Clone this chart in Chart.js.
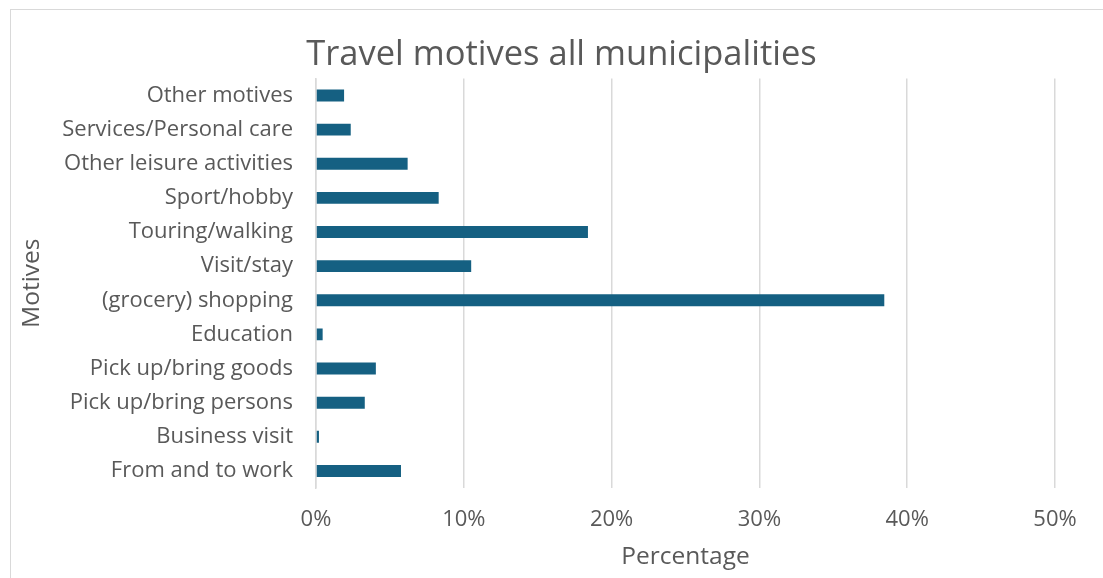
<!DOCTYPE html>
<html>
<head>
<meta charset="utf-8">
<script src="https://cdn.jsdelivr.net/npm/chart.js"></script>
<style>
  html, body { margin: 0; padding: 0; background: #fff; overflow: hidden; }
  #wrap { position: absolute; left: 0; top: 0; width: 1103px; height: 578px; }
  #frame { position: absolute; left: 10px; top: 9px; width: 1100px; height: 580px; border: 1px solid #d9d9d9; pointer-events: none; }
</style>
</head>
<body>
<div id="wrap"><canvas id="chart"></canvas></div>
<div id="frame"></div>
<script>
// categories, top to bottom as shown
const motives = [
    'Other motives',
    'Services/Personal care',
    'Other leisure activities',
    'Sport/hobby',
    'Touring/walking',
    'Visit/stay',
    '(grocery) shopping',
    'Education',
    'Pick up/bring goods',
    'Pick up/bring persons',
    'Business visit',
    'From and to work'
]
// share of trips, in percent
const percentages = [1.9, 2.35, 6.2, 8.3, 18.4, 10.5, 38.45, 0.45, 4.05, 3.3, 0.2, 5.75]
const xTicks = [0, 10, 20, 30, 40, 50]

const textColor = '#595959'
const gridColor = '#d9d9d9'
const fontFamily = "'Open Sans', sans-serif"

Chart.defaults.font.family = fontFamily
Chart.defaults.color = textColor

// the title sits centred on the whole frame, not on the padded chart box
const shiftTitle = {
    id: 'shiftTitle',
    afterLayout(chart) {
        const t = chart.titleBlock
        t.left += 28
        t.right += 28
    }
}

new Chart(document.querySelector('#chart').getContext('2d'), {
    type: 'bar',
    data: {
        labels: motives,
        datasets: [{
            label: 'Percentage',
            data: percentages,
            backgroundColor: '#156082',
            borderWidth: 0,
            barPercentage: 0.7,
            categoryPercentage: 0.5
        }]
    },
    plugins: [shiftTitle],
    options: {
        indexAxis: 'y',
        responsive: true,
        maintainAspectRatio: false,
        animation: false,
        layout: { padding: { left: 12, right: 48, top: 0, bottom: 0 } },
        plugins: {
            legend: { display: false },
            tooltip: { enabled: false },
            title: {
                display: true,
                text: 'Travel motives all municipalities',
                color: textColor,
                font: { size: 34.5, weight: 'normal' },
                padding: { top: 34, bottom: 3 }
            }
        },
        scales: {
            x: {
                min: 0,
                max: 50,
                afterBuildTicks: axis => { axis.ticks = xTicks.map(v => ({ value: v })) },
                afterFit: axis => { axis.height = 90 },
                ticks: {
                    padding: 19,
                    color: textColor,
                    font: { size: 22 },
                    callback: v => v + '%'
                },
                grid: { color: gridColor, lineWidth: 1.5, drawTicks: false },
                border: { display: false },
                title: {
                    display: true,
                    text: 'Percentage',
                    color: textColor,
                    font: { size: 24.5 },
                    padding: { top: 0, bottom: 6 }
                }
            },
            y: {
                afterFit: axis => { axis.width = 304 },
                ticks: {
                    padding: 23,
                    color: textColor,
                    font: { size: 22 }
                },
                grid: { display: false, drawTicks: false },
                border: { display: true, color: gridColor, width: 1.5 },
                title: {
                    display: true,
                    text: 'Motives',
                    color: textColor,
                    font: { size: 24.5 },
                    padding: { top: 5, bottom: 0 }
                }
            }
        }
    }
})
</script>
</body>
</html>
